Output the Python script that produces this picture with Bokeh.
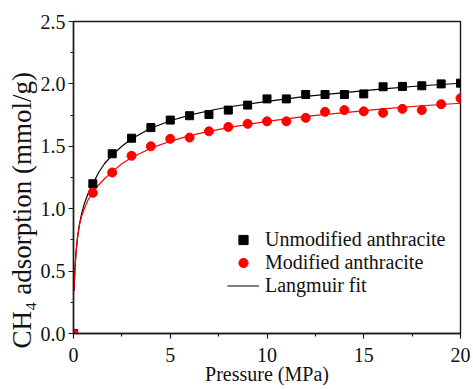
from bokeh.plotting import figure
from bokeh.models import Range1d, FixedTicker, PrintfTickFormatter, Legend, LegendItem, Title
from bokeh.embed import file_html
from bokeh.resources import INLINE

# ---- data ----
pressure = [0, 1, 2, 3, 4, 5, 6, 7, 8, 9, 10, 11, 12, 13, 14, 15, 16, 17, 18, 19, 20]
unmodified = [0.0, 1.20, 1.44, 1.565, 1.65, 1.71, 1.745, 1.755, 1.79, 1.83, 1.88, 1.88,
              1.915, 1.915, 1.915, 1.92, 1.977, 1.98, 1.985, 2.00, 2.006]
modified = [0.0, 1.127, 1.29, 1.424, 1.50, 1.56, 1.57, 1.62, 1.655, 1.68, 1.70, 1.70,
            1.728, 1.776, 1.79, 1.78, 1.768, 1.80, 1.79, 1.837, 1.885]

fit_p = [0.03, 0.07, 0.12, 0.2, 0.3, 0.42, 0.56, 0.75, 1.0, 1.3, 1.6, 2.0, 2.5, 3.0, 4.0,
         5.0, 6.0, 7.0, 8.0, 10.0, 12.0, 14.0, 16.0, 18.0, 20.0]
fit_unmod = [0.34, 0.50, 0.63, 0.76, 0.87, 0.96, 1.04, 1.12, 1.20, 1.29, 1.36, 1.43, 1.50,
             1.56, 1.645, 1.705, 1.75, 1.785, 1.815, 1.86, 1.90, 1.93, 1.96, 1.985, 2.005]
fit_mod = [0.34, 0.50, 0.63, 0.76, 0.86, 0.94, 1.00, 1.07, 1.13, 1.19, 1.24, 1.295, 1.36,
           1.41, 1.485, 1.54, 1.585, 1.62, 1.65, 1.70, 1.74, 1.77, 1.80, 1.825, 1.845]

x_ticks = [0, 5, 10, 15, 20]
x_minor = [2.5, 7.5, 12.5, 17.5]
y_ticks = [0.0, 0.5, 1.0, 1.5, 2.0, 2.5]
y_minor = [0.25, 0.75, 1.25, 1.75, 2.25]

x_title = "Pressure (MPa)"
y_title = "CH\u2084 adsorption (mmol/g)"

FONT = "Liberation Serif"

p = figure(width=470, height=389, output_backend="svg", toolbar_location=None,
           x_range=Range1d(0, 20), y_range=Range1d(0, 2.5),
           min_border_left=73, min_border_right=10, min_border_top=21, min_border_bottom=56)
p.background_fill_color = "white"
p.border_fill_color = "white"
p.grid.visible = False
p.outline_line_color = "#1a1a1a"
p.outline_line_width = 1.4

for ax in (p.xaxis[0], p.yaxis[0]):
    ax.axis_line_color = "#1a1a1a"
    ax.axis_line_width = 1.4
    ax.major_tick_line_color = "#1a1a1a"
    ax.minor_tick_line_color = "#1a1a1a"
    ax.major_tick_line_width = 1.2
    ax.minor_tick_line_width = 1.2
    ax.major_tick_in = 0
    ax.major_tick_out = 5
    ax.minor_tick_in = 0
    ax.minor_tick_out = 3
    ax.major_label_text_font = FONT
    ax.major_label_text_font_size = "20px"
    ax.major_label_text_color = "#111111"
    ax.axis_label_text_font = FONT
    ax.axis_label_text_font_style = "normal"
    ax.axis_label_text_color = "#111111"

p.xaxis[0].ticker = FixedTicker(ticks=x_ticks, minor_ticks=x_minor)
p.yaxis[0].ticker = FixedTicker(ticks=y_ticks, minor_ticks=y_minor)
p.yaxis[0].formatter = PrintfTickFormatter(format="%.1f")
p.xaxis[0].formatter = PrintfTickFormatter(format="%d")
p.xaxis[0].major_label_standoff = 9
p.xaxis[0].axis_label = x_title
p.xaxis[0].axis_label_text_font_size = "20px"
p.xaxis[0].axis_label_standoff = -2
p.yaxis[0].major_label_standoff = 3

# y title as a side-panel title so it can be shifted like the reference
ytitle = Title(text=y_title, align="left", offset=-15, standoff=2,
               text_font=FONT, text_font_size="27px", text_font_style="normal",
               text_color="#111111")
p.add_layout(ytitle, "left")

l_unmod = p.line(fit_p, fit_unmod, line_color="black", line_width=1.2)
l_mod = p.line(fit_p, fit_mod, line_color="#ff0000", line_width=1.2)
s_unmod = p.scatter(pressure, unmodified, marker="square", size=8,
                    fill_color="black", line_color="black")
s_mod = p.scatter(pressure, modified, marker="circle", size=9,
                  fill_color="#ff0000", line_color="#ff0000")

legend = Legend(items=[
    LegendItem(label="Unmodified anthracite", renderers=[s_unmod]),
    LegendItem(label="Modified anthracite", renderers=[s_mod]),
    LegendItem(label="Langmuir fit", renderers=[l_unmod]),
], location=(154, 36))
legend.border_line_color = None
legend.background_fill_alpha = 0
legend.padding = 0
legend.margin = 0
legend.spacing = 0
legend.glyph_width = 32
legend.glyph_height = 23
legend.label_height = 23
legend.label_standoff = 6
legend.label_text_font = FONT
legend.label_text_font_size = "20px"
legend.label_text_color = "#111111"
p.add_layout(legend, "center")

open("out.html", "w").write(file_html(p, INLINE))
